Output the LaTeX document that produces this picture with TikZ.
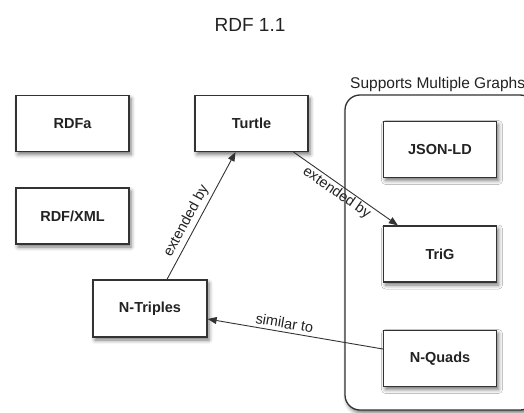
\documentclass[tikz,border=0pt]{standalone}
\usepackage{fontspec}
\setmainfont{Liberation Sans}
\usetikzlibrary{arrows.meta,shadows.blur}
\definecolor{edgegray}{HTML}{333333}
\definecolor{txtgray}{HTML}{222222}
\tikzset{
  shad/.style={blur shadow={shadow xshift=2pt,shadow yshift=-3pt,shadow blur radius=4pt,shadow opacity=55}},
  fmtbox/.style={draw=edgegray,line width=1.3pt,fill=white,minimum width=113pt,minimum height=56pt,inner sep=0pt,
    font=\fontsize{14.5}{16}\selectfont\bfseries,text=txtgray,shad},
  container/.style={draw=edgegray,line width=1.3pt,rounded corners=15pt,fill=white,shad},
  arr/.style={draw=edgegray,line width=0.9pt,-{Triangle[length=9pt,width=7pt]}},
  lbl/.style={font=\fontsize{14.5}{16}\selectfont,text=txtgray},
}
\begin{document}
\begin{tikzpicture}[x=1pt,y=-1pt]
\useasboundingbox (0,0) rectangle (524,412);
\node[font=\fontsize{19}{22}\selectfont,text=txtgray] (title) at (250,25) {RDF 1.1};
\draw[container] (345,95) rectangle (535,410);
\node[anchor=base west,font=\fontsize{15.5}{18}\selectfont,text=txtgray,inner sep=0pt] (sup) at (350,88) {Supports Multiple Graphs};
\node[fmtbox] (rdfa) at (72.5,123.5) {RDFa};
\node[fmtbox] (tu) at (251.5,123.5) {Turtle};
\node[fmtbox] (xml) at (72.5,216) {RDF/XML};
\node[fmtbox,minimum width=114pt,minimum height=57pt] (nt) at (150,308.5) {N-Triples};
\node[fmtbox] (js) at (440,149.5) {JSON-LD};
\node[fmtbox] (tg) at (440,254) {TriG};
\node[fmtbox] (nq) at (440,358.5) {N-Quads};
\draw[arr] ([xshift=17pt]nt.north) -- node[pos=0.42,above,sloped,lbl] {extended by} ([xshift=-16pt]tu.south);
\draw[arr] ([xshift=-15pt]tu.south east) -- node[pos=0.46,below,sloped,lbl,inner sep=1.5pt] {extended by} ([xshift=15pt]tg.north west);
\draw[arr] ([yshift=9.5pt]nq.west) -- node[pos=0.57,above,sloped,lbl] {similar to} ([yshift=-10.5pt]nt.east);
\end{tikzpicture}
\end{document}
